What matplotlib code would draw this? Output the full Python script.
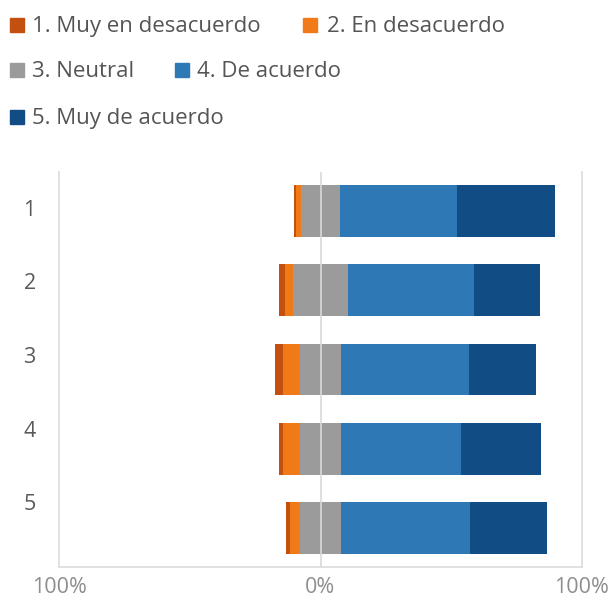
import numpy as np
import matplotlib
matplotlib.use("Agg")
import matplotlib.pyplot as plt
from matplotlib.patches import Rectangle

plt.rcParams['font.family'] = ['Open Sans', 'DejaVu Sans']

# datos (porcentaje de respuestas por pregunta)
preguntas = ['1', '2', '3', '4', '5']
categorias = ['1. Muy en desacuerdo', '2. En desacuerdo', '3. Neutral',
              '4. De acuerdo', '5. Muy de acuerdo']
muy_desacuerdo = np.array([1.0, 2.2, 3.2, 1.3, 1.3])
desacuerdo = np.array([1.9, 3.2, 6.4, 6.4, 3.8])
neutral = np.array([14.6, 21.0, 16.0, 16.0, 16.0])
de_acuerdo = np.array([45.0, 48.3, 48.8, 45.8, 49.4])
muy_acuerdo = np.array([37.5, 25.3, 25.6, 30.5, 29.5])
colores = ['#C4500F', '#F07A18', '#9B9B9B', '#2E78B5', '#124C85']

W, H = 612, 598
fig = plt.figure(figsize=(W / 100, H / 100), dpi=100)
ax = fig.add_axes([59.3 / W, 1 - 567 / H, 522.4 / W, 395 / H])

y = np.arange(len(preguntas))
alto = 0.655
series = [muy_desacuerdo, desacuerdo, neutral, de_acuerdo, muy_acuerdo]

# la parte negativa empieza en -(1 + 2 + neutral/2)
inicio = -(muy_desacuerdo + desacuerdo + neutral / 2) / 100
izq = inicio.copy()
for vals, c in zip(series, colores):
    ax.barh(y, vals / 100, left=izq, height=alto, color=c, edgecolor='none', zorder=2)
    izq = izq + vals / 100

ax.set_xlim(-1, 1)
ax.set_ylim(len(preguntas) - 0.51, -0.49)
ax.axvline(0, color='#D9D9D9', lw=1.2, zorder=3)

ax.spines['top'].set_visible(False)
for s in ['left', 'right', 'bottom']:
    ax.spines[s].set_color('#DCDCDC')
    ax.spines[s].set_linewidth(1.2)

ax.set_xticks([-1, 0, 1])
ax.set_xticklabels(['100%', '0%', '100%'], fontsize=15.5, color='#8E8E8E')
# las etiquetas del eje y no quedan centradas con las barras en el original
ax.set_yticks(-0.04 + y * 0.928)
ax.set_yticklabels(preguntas, fontsize=15.5, color='#5A5A5A')
ax.tick_params(axis='x', length=0, pad=7)
ax.tick_params(axis='y', length=0, pad=17)

# leyenda arriba, en filas
items = [(0, 10, 32, 32), (1, 303, 327, 32),
         (2, 10, 32, 77), (3, 175, 197, 77),
         (4, 10, 32, 124)]
for i, xm, xt, yb in items:
    fig.patches.append(Rectangle((xm / W, 1 - yb / H), 14 / W, 14 / H,
                                 transform=fig.transFigure, color=colores[i]))
    fig.text(xt / W, 1 - yb / H, categorias[i], fontsize=16, color='#555555',
             va='baseline', ha='left')

fig.savefig('out.png', dpi=100, facecolor='white')
